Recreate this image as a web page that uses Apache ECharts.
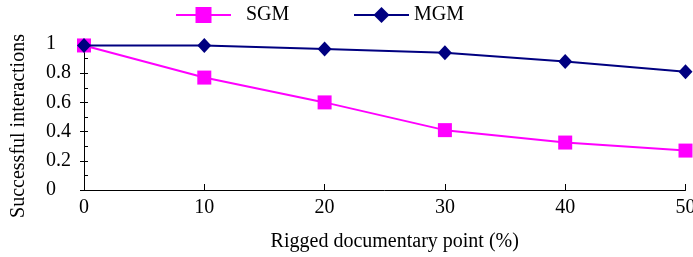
<!DOCTYPE html>
<html><head><meta charset="utf-8">
<script src="https://cdn.jsdelivr.net/npm/echarts@6/dist/echarts.min.js"></script>
<style>html,body{margin:0;padding:0;background:#fff}#c{width:693px;height:257px}</style>
</head><body><div id="c"></div>
<script>
const xValues = [0, 10, 20, 30, 40, 50];
const sgm = [0.99, 0.77, 0.60, 0.41, 0.325, 0.27];
const mgm = [0.99, 0.99, 0.965, 0.94, 0.88, 0.81];
const seriesNames = ['SGM', 'MGM'];
const xTitle = 'Rigged documentary point (%)';
const yTitle = 'Successful interactions';

const font = 'Liberation Serif';
const chart = echarts.init(document.getElementById('c'), null, {renderer: 'canvas'});
const pair = arr => xValues.map((x, i) => [x, arr[i]]);
chart.setOption({
  animation: false,
  grid: {left: 84, right: 7.5, top: 44, bottom: 67, containLabel: false, outerBoundsMode: 'none'},
  legend: [
    {data: [seriesNames[0]], left: 170, top: 0, itemWidth: 55, itemHeight: 20, itemGap: 10,
     textStyle: {fontFamily: font, fontSize: 20, color: '#000', padding: [0, 0, 0, 10]}},
    {data: [seriesNames[1]], left: 348, top: 0, itemWidth: 55, itemHeight: 20,
     textStyle: {fontFamily: font, fontSize: 20, color: '#000', padding: [0, 0, 0, 0]}}
  ],
  xAxis: {
    type: 'value', min: 0, max: 50, interval: 10,
    name: xTitle, nameLocation: 'middle', nameGap: 42,
    nameTextStyle: {fontFamily: font, fontSize: 20, color: '#000', padding: [0, 0, 0, 20]},
    axisLine: {lineStyle: {color: '#000', width: 1}},
    axisTick: {inside: true, length: 6, lineStyle: {color: '#000'}},
    axisLabel: {fontFamily: font, fontSize: 20, color: '#000', margin: 8},
    splitLine: {show: false}
  },
  yAxis: [{
    type: 'value', min: 0, max: 1, interval: 0.2,
    name: yTitle, nameLocation: 'middle', nameGap: 55,
    nameTextStyle: {fontFamily: font, fontSize: 20, color: '#000', padding: [0, 18, 0, 0]},
    axisLine: {show: true, onZero: false, lineStyle: {color: '#000', width: 1}},
    axisTick: {show: true, inside: false, length: 4, lineStyle: {color: '#000'}},
    axisLabel: {fontFamily: font, fontSize: 20, color: '#000', margin: 38, align: 'left'},
    splitLine: {show: false}
  }, {
    type: 'value', min: 0, max: 1, interval: 0.1, position: 'left', offset: 0,
    axisLine: {show: false},
    axisTick: {show: true, inside: true, length: 4, lineStyle: {color: '#000'}},
    axisLabel: {show: false},
    splitLine: {show: false}
  }],
  series: [
    {name: seriesNames[0], type: 'line', data: pair(sgm), symbol: 'rect', symbolSize: 14,
     lineStyle: {color: '#FF00FF', width: 2}, itemStyle: {color: '#FF00FF'}, z: 2},
    {name: seriesNames[1], type: 'line', data: pair(mgm), symbol: 'diamond', symbolSize: [14, 15],
     lineStyle: {color: '#000080', width: 2}, itemStyle: {color: '#000080'}, z: 3}
  ]
});
</script></body></html>
